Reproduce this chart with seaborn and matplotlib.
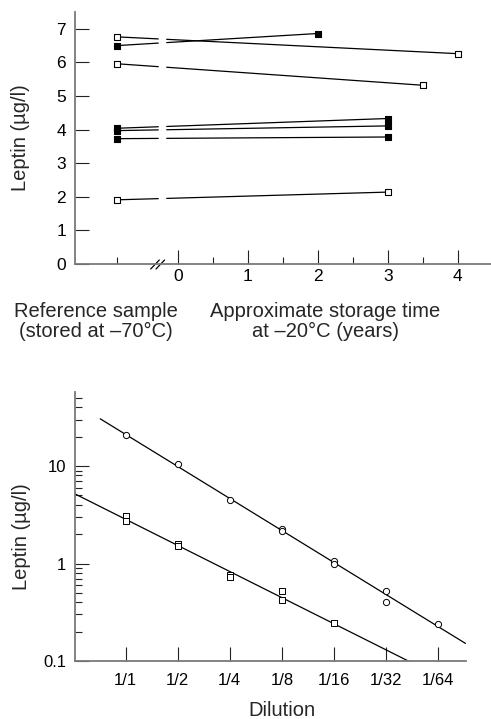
import numpy as np
import pandas as pd
import matplotlib
matplotlib.use("Agg")
import matplotlib.pyplot as plt
from matplotlib.ticker import FixedLocator, LogLocator, NullFormatter
import seaborn as sns

# --- data ---
# top panel: leptin in reference sample (-70C) vs after storage at -20C
storage_years = [4, 2, 3.5, 3, 3, 3, 3]
ref_leptin = [6.76, 6.50, 5.96, 4.04, 3.97, 3.73, 1.91]
stored_leptin = [6.26, 6.86, 5.32, 4.33, 4.11, 3.78, 2.14]
filled = [False, True, False, True, True, True, False]

# bottom panel: dilution series (log scale)
dilutions = ["1/1", "1/2", "1/4", "1/8", "1/16", "1/32", "1/64"]
circle_step = [0, 1, 2, 3, 3, 4, 4, 5, 5, 6]
circle_leptin = [20.8, 10.4, 4.49, 2.26, 2.14, 1.06, 1.0, 0.525, 0.405, 0.241]
square_step = [0, 0, 1, 1, 2, 2, 3, 3, 4]
square_leptin = [3.1, 2.76, 1.60, 1.50, 0.77, 0.73, 0.517, 0.425, 0.247]

# layout constants
REF_POS = -0.87          # where the reference sample sits on the x axis
GAP = (-0.277, -0.157)   # axis break gap in the connecting lines
LABEL_SIZE = 14.5

sns.set_theme(style="ticks")
plt.rcParams["font.family"] = ["Liberation Sans", "DejaVu Sans"]

fig = plt.figure(figsize=(4.91, 7.19), dpi=100)
W, H = 491, 719


def px_axes(left, top, right, bottom):
    return [left / W, 1 - bottom / H, (right - left) / W, (bottom - top) / H]


def style_axes(ax):
    sns.despine(ax=ax)
    for side in ["left", "bottom"]:
        ax.spines[side].set_color("#7a7a7a")
        ax.spines[side].set_linewidth(1.3)
    ax.tick_params(which="major", direction="in", length=10, width=0.8,
                   color="#222222", labelcolor="black")
    ax.tick_params(which="minor", direction="in", length=5, width=0.8,
                   color="#222222")


# --- top panel ---
ax1 = fig.add_axes(px_axes(75, 12, 491, 264))
style_axes(ax1)

for t, r, s in zip(storage_years, ref_leptin, stored_leptin):
    xs = [REF_POS, t]
    ys = [r, s]
    y_gap = np.interp(GAP, xs, ys)
    ax1.plot([REF_POS, GAP[0]], [r, y_gap[0]], color="black", lw=0.9, zorder=2)
    ax1.plot([GAP[1], t], [y_gap[1], s], color="black", lw=0.9, zorder=2)

top_df = pd.DataFrame({
    "x": [REF_POS] * len(ref_leptin) + storage_years,
    "y": ref_leptin + stored_leptin,
    "filled": filled + filled,
})
sns.scatterplot(data=top_df[~top_df["filled"]], x="x", y="y", ax=ax1,
                marker="s", s=18, color="white", edgecolor="black",
                linewidth=0.8, zorder=3)
sns.scatterplot(data=top_df[top_df["filled"]], x="x", y="y", ax=ax1,
                marker="s", s=20, color="black", edgecolor="black",
                linewidth=0.8, zorder=3)

ax1.set_xlim(-1.467, 4.476)
ax1.set_ylim(0, 7.5)
ax1.set_xticks([0, 1, 2, 3, 4])
ax1.xaxis.set_minor_locator(FixedLocator([REF_POS, 0.5, 1.5, 2.5, 3.5]))
ax1.set_yticks(range(8))
ax1.tick_params(axis="x", which="major", labelsize=12.5, pad=3.5)
ax1.tick_params(axis="y", which="major", labelsize=12.5, pad=6.5)

ax1.set_ylabel("Leptin (µg/l)", fontsize=LABEL_SIZE)
ax1.yaxis.set_label_coords(-0.108, 0.5)
ax1.set_xlabel("Approximate storage time\nat –20°C (years)", fontsize=LABEL_SIZE,
               linespacing=1.1, va="top")
ax1.xaxis.set_label_coords(0.601, -0.15)
ax1.text(0.0505, -0.15, "Reference sample\n(stored at –70°C)", fontsize=LABEL_SIZE,
         linespacing=1.1, ha="center", va="top", transform=ax1.transAxes)

# axis break marks
for dx in [0, 5.3]:
    x0 = (150.7 + dx - 75) / 416
    x1 = (159.3 + dx - 75) / 416
    ax1.plot([x0, x1], [(264 - 269) / 252, (264 - 260) / 252],
             transform=ax1.transAxes, color="black", lw=0.9, clip_on=False)

# --- bottom panel ---
ax2 = fig.add_axes(px_axes(75, 392, 466, 661))
style_axes(ax2)
ax2.set_yscale("log")

# regression lines fitted in log space
c_fit = np.polyfit(circle_step, np.log10(circle_leptin), 1)
s_fit = np.polyfit(square_step, np.log10(square_leptin), 1)
xc = np.array([-0.49, 6.53])
xs_ = np.array([-0.975, 6.0])
ax2.plot(xc, 10 ** np.polyval(c_fit, xc), color="black", lw=0.9, zorder=2)
ax2.plot(xs_, 10 ** np.polyval(s_fit, xs_), color="black", lw=0.9, zorder=2)

sns.scatterplot(x=circle_step, y=circle_leptin, ax=ax2, marker="o", s=20,
                color="white", edgecolor="black", linewidth=0.7, zorder=3)
sns.scatterplot(x=square_step, y=square_leptin, ax=ax2, marker="s", s=18,
                color="white", edgecolor="black", linewidth=0.7, zorder=3)

ax2.set_xlim(-0.975, 6.54)
ax2.set_ylim(0.1, 57.5)
ax2.set_xticks(range(len(dilutions)), labels=dilutions)
ax2.set_yticks([0.1, 1, 10], labels=["0.1", "1", "10"])
ax2.yaxis.set_minor_locator(LogLocator(base=10, subs=np.arange(2, 10)))
ax2.yaxis.set_minor_formatter(NullFormatter())
ax2.tick_params(axis="x", which="major", labelsize=12, pad=8.5)
ax2.tick_params(axis="y", which="major", labelsize=12, pad=6.5)

ax2.set_ylabel("Leptin (µg/l)", fontsize=LABEL_SIZE)
ax2.yaxis.set_label_coords(-0.113, 0.461)
ax2.set_xlabel("Dilution", fontsize=LABEL_SIZE, va="top")
ax2.xaxis.set_label_coords(0.529, -0.147)

fig.savefig("out.png", dpi=100)
